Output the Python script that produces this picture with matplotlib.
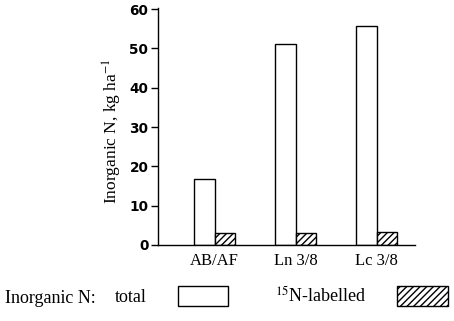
import matplotlib
matplotlib.use("Agg")
import matplotlib.pyplot as plt
from matplotlib.patches import Patch
import numpy as np

plt.rcParams["mathtext.fontset"] = "stix"

categories = ["AB/AF", "Ln 3/8", "Lc 3/8"]
total = [16.7, 51.1, 55.7]
labelled = [3.0, 3.0, 3.4]
yticks = [0, 10, 20, 30, 40, 50, 60]

serif = "Liberation Serif"
sans = "DejaVu Sans"

fig = plt.figure(figsize=(4.54, 3.21), dpi=100)
ax = fig.add_axes([0.348, 0.237, 0.566, 0.738])
x = np.arange(len(categories))
w = 0.25
ax.bar(x - w / 2, total, w, facecolor="white", edgecolor="black", linewidth=1.0)
ax.bar(x + w / 2, labelled, w, facecolor="white", edgecolor="black", linewidth=1.0,
       hatch="/////")
ax.set_xlim(-0.70, 2.475)
ax.set_ylim(0, 60.3)
ax.set_yticks(yticks)
ax.set_yticklabels([str(t) for t in yticks], fontfamily=sans, fontweight="bold", fontsize=9.8)
ax.set_xticks(x)
ax.set_xticklabels(categories, fontfamily=serif, fontsize=12)
ax.tick_params(axis="x", length=0, pad=6)
ax.tick_params(axis="y", length=5, width=1.0, direction="out", pad=2)
for s in ["top", "right"]:
    ax.spines[s].set_visible(False)
for s in ["left", "bottom"]:
    ax.spines[s].set_linewidth(1.0)
ax.set_ylabel("Inorganic N, kg ha$^{-1}$", fontfamily=serif, fontsize=12.5)
ax.yaxis.set_label_coords(-0.132, 0.48)

fig.text(0.011, 0.07, "Inorganic N:", fontfamily=serif, fontsize=13, va="center", ha="left")
handles = [Patch(facecolor="white", edgecolor="black", linewidth=1.0),
           Patch(facecolor="white", edgecolor="black", linewidth=1.0, hatch="/////")]
leg = fig.legend(handles, ["total", "$^{15}$N-labelled"], ncol=2, markerfirst=False,
                 frameon=False, loc="center left", bbox_to_anchor=(0.253, 0.078),
                 prop={"family": serif, "size": 13}, handlelength=2.78, handleheight=1.28,
                 handletextpad=1.72, columnspacing=2.6, borderpad=0, borderaxespad=0)
fig.savefig("out.png", dpi=100)
